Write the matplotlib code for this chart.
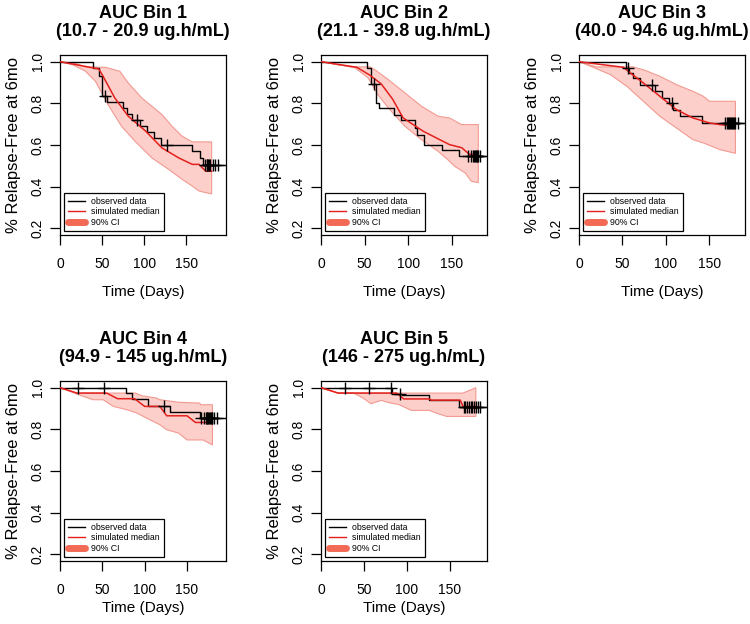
import numpy as np
import matplotlib
matplotlib.use("Agg")
import matplotlib.pyplot as plt
from matplotlib.lines import Line2D

plt.rcParams['font.family'] = ['Liberation Sans', 'DejaVu Sans']

# titles of the five AUC bins
titles = ["AUC Bin 1\n(10.7 - 20.9 ug.h/mL)",
          "AUC Bin 2\n(21.1 - 39.8 ug.h/mL)",
          "AUC Bin 3\n(40.0 - 94.6 ug.h/mL)",
          "AUC Bin 4\n(94.9 - 145 ug.h/mL)",
          "AUC Bin 5\n(146 - 275 ug.h/mL)"]
x_max = [197, 190, 191, 196, 193]

# observed Kaplan-Meier steps (time, survival after the step)
obs1_t = [0, 39, 46, 50, 56, 75, 80, 86, 95, 103, 111, 120, 157, 166, 170]
obs1_s = [1.0, 0.97, 0.93, 0.834, 0.807, 0.778, 0.749, 0.722, 0.69, 0.663, 0.633, 0.602, 0.572, 0.538, 0.505]
cens1 = [53, 91, 127, 172, 174, 175, 176, 177, 178, 181, 184, 188]

obs2_t = [0, 53, 57, 63, 66, 83, 92, 108, 110, 118, 138, 158]
obs2_s = [1.0, 0.97, 0.895, 0.802, 0.778, 0.746, 0.719, 0.68, 0.65, 0.602, 0.578, 0.546]
cens2 = [61, 168, 172, 174, 175, 176, 177, 178, 179, 180, 182]

obs3_t = [0, 54, 57, 62, 70, 88, 96, 104, 108, 116, 142]
obs3_s = [1.0, 0.97, 0.946, 0.922, 0.89, 0.858, 0.825, 0.80, 0.77, 0.741, 0.706]
cens3 = [56, 84, 107, 168, 170, 172, 173, 174, 175, 176, 177, 178, 180, 183]

obs4_t = [0, 78, 85, 104, 130, 165]
obs4_s = [1.0, 0.974, 0.946, 0.913, 0.881, 0.854]
cens4 = [21, 52, 123, 166, 170, 172, 173, 174, 175, 176, 177, 178, 179, 180, 182, 185]

obs5_t = [0, 83, 94, 125, 160]
obs5_s = [1.0, 0.971, 0.966, 0.942, 0.906]
cens5 = [28, 56, 81, 92, 166, 168, 170, 172, 174, 176, 178, 180, 182, 185]

# simulated median
med1_t = [0, 46, 50, 65, 81, 101, 121, 141, 157, 165, 173, 180]
med1_s = [1.0, 0.965, 0.938, 0.826, 0.738, 0.669, 0.586, 0.538, 0.507, 0.507, 0.474, 0.474]
med2_t = [0, 41, 56, 69, 82, 94, 117, 147, 161, 170, 180]
med2_s = [1.0, 0.973, 0.935, 0.893, 0.82, 0.73, 0.666, 0.602, 0.587, 0.555, 0.555]
med3_t = [0, 51, 59, 74, 93, 112, 131, 150, 162, 180]
med3_s = [1.0, 0.973, 0.946, 0.898, 0.834, 0.77, 0.73, 0.706, 0.698, 0.69]
med4_t = [0, 20, 55, 68, 88, 100, 118, 126, 150, 160, 180]
med4_s = [1.0, 0.974, 0.974, 0.947, 0.947, 0.91, 0.91, 0.865, 0.865, 0.833, 0.833]
med5_t = [0, 20, 88, 96, 126, 128, 162, 165, 180]
med5_s = [1.0, 0.974, 0.974, 0.946, 0.946, 0.94, 0.94, 0.91, 0.91]

# 90% CI upper / lower
up1_t = [0, 20, 30, 54, 71, 81, 97, 109, 121, 133, 145, 157, 180]
up1_s = [1.0, 0.99, 0.975, 0.973, 0.954, 0.898, 0.826, 0.786, 0.746, 0.69, 0.642, 0.615, 0.615]
lo1_t = [0, 15, 30, 42, 57, 73, 89, 109, 129, 145, 157, 165, 180]
lo1_s = [1.0, 0.985, 0.955, 0.906, 0.794, 0.69, 0.618, 0.538, 0.483, 0.435, 0.403, 0.379, 0.365]

up2_t = [0, 20, 39, 56, 62, 77, 96, 115, 134, 147, 161, 180]
up2_s = [1.0, 0.985, 0.975, 0.975, 0.96, 0.914, 0.85, 0.786, 0.738, 0.73, 0.698, 0.698]
lo2_t = [0, 20, 39, 54, 65, 77, 96, 115, 134, 145, 153, 165, 172, 180]
lo2_s = [1.0, 0.985, 0.97, 0.922, 0.842, 0.778, 0.69, 0.626, 0.57, 0.53, 0.498, 0.466, 0.426, 0.419]

up3_t = [0, 20, 62, 75, 93, 112, 131, 143, 150, 180]
up3_s = [1.0, 0.975, 0.975, 0.96, 0.93, 0.89, 0.858, 0.834, 0.81, 0.81]
lo3_t = [0, 15, 36, 55, 74, 93, 112, 131, 143, 162, 180]
lo3_s = [1.0, 0.975, 0.938, 0.882, 0.81, 0.738, 0.682, 0.626, 0.61, 0.578, 0.56]

up4_t = [0, 20, 77, 89, 97, 114, 118, 140, 165, 166, 180]
up4_s = [1.0, 0.974, 0.974, 0.974, 0.961, 0.95, 0.942, 0.93, 0.926, 0.918, 0.918]
lo4_t = [0, 22, 39, 51, 63, 79, 91, 106, 118, 126, 140, 150, 169, 180]
lo4_s = [1.0, 0.966, 0.942, 0.942, 0.91, 0.894, 0.878, 0.846, 0.822, 0.798, 0.782, 0.749, 0.749, 0.725]

up5_t = [0, 20, 88, 165, 180]
up5_s = [1.0, 0.974, 0.974, 0.974, 1.0]
lo5_t = [0, 20, 38, 49, 58, 70, 78, 91, 105, 126, 134, 146, 180]
lo5_s = [1.0, 0.974, 0.974, 0.95, 0.923, 0.939, 0.929, 0.918, 0.891, 0.891, 0.878, 0.862, 0.862]

obs_t = [obs1_t, obs2_t, obs3_t, obs4_t, obs5_t]
obs_s = [obs1_s, obs2_s, obs3_s, obs4_s, obs5_s]
cens = [cens1, cens2, cens3, cens4, cens5]
med_t = [med1_t, med2_t, med3_t, med4_t, med5_t]
med_s = [med1_s, med2_s, med3_s, med4_s, med5_s]
up_t = [up1_t, up2_t, up3_t, up4_t, up5_t]
up_s = [up1_s, up2_s, up3_s, up4_s, up5_s]
lo_t = [lo1_t, lo2_t, lo3_t, lo4_t, lo5_t]
lo_s = [lo1_s, lo2_s, lo3_s, lo4_s, lo5_s]

RED = "#E3201C"
BAND = "#FCCFCB"
BAND_EDGE = "#F29A90"
CI_LEG = "#F26A55"

W, H = 750, 624
fig = plt.figure(figsize=(W / 100, H / 100), dpi=100)
boxes = [(60, 55), (321, 55), (579, 55), (60, 381), (321, 381)]

for i, (left, top) in enumerate(boxes):
    ax = fig.add_axes([left / W, 1 - (top + 180) / H, 166 / W, 180 / H])

    # CI band as a polygon
    bx = np.concatenate([up_t[i], lo_t[i][::-1]])
    by = np.concatenate([up_s[i], lo_s[i][::-1]])
    ax.fill(bx, by, facecolor=BAND, edgecolor=BAND_EDGE, lw=0.8, zorder=1)

    # observed KM curve
    t = np.array(obs_t[i] + [x_max[i]])
    s = np.array(obs_s[i] + [obs_s[i][-1]])
    ax.step(t, s, where='post', color='black', lw=1.0, zorder=2)
    ct = np.array(cens[i])
    idx = np.searchsorted(np.array(obs_t[i]), ct, side='right') - 1
    cs = np.array(obs_s[i])[idx]
    ax.plot(ct, cs, ls='none', marker='+', ms=8, mew=1.0, color='black', zorder=4)

    # simulated median
    ax.plot(med_t[i], med_s[i], color=RED, lw=1.1, zorder=3)

    ax.set_xlim(0, x_max[i])
    ax.set_ylim(0.168, 1.032)
    ax.set_xticks([0, 50, 100, 150])
    ax.set_yticks([0.2, 0.4, 0.6, 0.8, 1.0])
    ax.set_yticklabels(["0.2", "0.4", "0.6", "0.8", "1.0"])
    ax.tick_params(length=7, width=0.9, labelsize=10)
    ax.tick_params(axis='x', pad=9)
    ax.tick_params(axis='y', pad=4)
    plt.setp(ax.get_yticklabels(), rotation=90, va='center')
    for sp in ax.spines.values():
        sp.set_linewidth(0.9)

    ax.set_xlabel("Time (Days)", fontsize=11, labelpad=10 if top < 100 else 3)
    ax.set_ylabel("% Relapse-Free at 6mo", fontsize=12, labelpad=7)
    ax.set_title(titles[i], fontsize=13, fontweight='bold', pad=14, linespacing=1.05)

    handles = [Line2D([], [], color='black', lw=1.0),
               Line2D([], [], color=RED, lw=1.0),
               Line2D([], [], color=CI_LEG, lw=5, solid_capstyle='round')]
    leg = ax.legend(handles, ["observed data", "simulated median", "90% CI"],
                    loc='lower left', fontsize=6.3, frameon=True, fancybox=False,
                    edgecolor='black', framealpha=1, handlelength=1.95,
                    handletextpad=0.7, labelspacing=0.2, borderpad=0.45,
                    borderaxespad=0.45)
    leg.get_frame().set_linewidth(0.9)

fig.savefig("out.png", dpi=100)
